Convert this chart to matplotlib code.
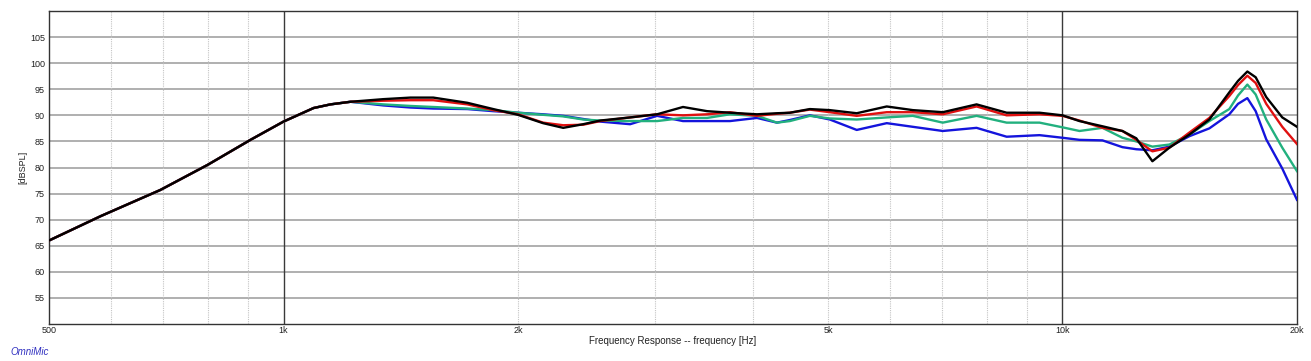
"""Frequency response plot (OmniMic style), four measurement traces."""

import matplotlib

matplotlib.use("Agg")
import matplotlib.pyplot as plt
from matplotlib.ticker import FixedLocator, NullFormatter

plt.rcParams["font.family"] = ["Liberation Sans", "DejaVu Sans"]

# Frequency grid [Hz] shared by every trace
FREQ = [
    500, 583, 695, 799, 907, 1000, 1093, 1149, 1219, 1343, 1455, 1557, 1722,
    1859, 2000, 2154, 2286, 2425, 2550, 2786, 3017, 3257, 3497, 3742, 4053,
    4300, 4467, 4739, 5027, 5443, 5948, 6424, 7019, 7757, 8478, 9344, 10000,
    10515, 11254, 11937, 12437, 13043, 13715, 14550, 15435, 16373, 16800,
    17270, 17700, 18262, 19148, 20000,
]

# Traces [dB SPL]; below ~1.2 kHz they all coincide
LOW_END = [66.0, 70.7, 75.7, 80.5, 85.3, 88.8, 91.4, 92.1, 92.6]

BLACK = LOW_END + [
    93.1, 93.4, 93.4, 92.4, 91.2, 90.1, 88.5, 87.6, 88.3, 89.0, 89.6, 90.2,
    91.6, 90.8, 90.5, 90.2, 90.4, 90.5, 91.2, 91.0, 90.4, 91.7, 91.0, 90.6,
    92.1, 90.5, 90.5, 90.0, 88.9, 87.9, 87.0, 85.6, 81.2, 83.8, 86.3, 89.2,
    94.4, 96.6, 98.4, 97.3, 93.5, 89.6, 87.8,
]
RED = LOW_END + [
    92.8, 92.9, 92.9, 92.1, 91.0, 90.2, 88.6, 88.1, 88.2, 88.9, 89.6, 90.2,
    90.0, 90.2, 90.6, 89.9, 90.3, 90.5, 91.1, 90.6, 89.9, 90.6, 90.6, 90.2,
    91.7, 90.0, 90.2, 89.9, 89.0, 87.6, 87.0, 85.3, 83.1, 83.8, 86.7, 89.5,
    93.7, 95.8, 97.6, 96.2, 92.2, 87.8, 84.5,
]
TEAL = LOW_END + [
    92.1, 91.8, 91.6, 91.3, 91.0, 90.5, 90.1, 89.8, 89.2, 89.0, 88.9, 88.9,
    89.5, 89.5, 90.2, 89.9, 88.6, 88.9, 89.9, 89.4, 89.2, 89.6, 89.9, 88.6,
    89.9, 88.6, 88.6, 87.7, 87.0, 87.6, 85.7, 85.0, 84.0, 84.4, 86.3, 88.9,
    91.2, 93.8, 95.9, 94.0, 89.2, 83.8, 79.3,
]
BLUE = LOW_END + [
    91.9, 91.5, 91.3, 91.2, 90.8, 90.5, 90.2, 89.9, 89.3, 88.8, 88.3, 89.9,
    88.9, 88.9, 88.9, 89.5, 88.6, 89.1, 90.0, 89.2, 87.2, 88.5, 87.8, 87.0,
    87.6, 85.9, 86.2, 85.7, 85.3, 85.2, 83.9, 83.5, 83.3, 84.0, 86.0, 87.5,
    90.2, 92.2, 93.3, 90.8, 85.4, 79.8, 73.8,
]

TRACES = [
    (BLUE, "#1414dc"),
    (TEAL, "#22b07e"),
    (RED, "#e01010"),
    (BLACK, "#000000"),
]

X_LABELED = [500, 1000, 2000, 5000, 10000, 20000]
X_LABELS = ["500", "1k", "2k", "5k", "10k", "20k"]
X_MAJOR = [1000, 10000]
X_MINOR = [600, 700, 800, 900, 2000, 3000, 4000, 5000, 6000, 7000, 8000, 9000]
Y_TICKS = [55, 60, 65, 70, 75, 80, 85, 90, 95, 100, 105]

TEXT_COLOR = "#222222"

fig = plt.figure(figsize=(13.11, 3.61), dpi=100)
ax = fig.add_axes([49 / 1311, 37 / 361, 1248 / 1311, 313 / 361])

ax.set_xscale("log")
ax.set_xlim(500, 20000)
ax.set_ylim(50, 110)

# grid
for y in Y_TICKS:
    ax.axhline(y, color="#9a9a9a", linewidth=1.1, zorder=1)
for x in X_MINOR:
    ax.axvline(x, color="#c4c4c4", linewidth=0.8, linestyle=(0, (1, 1)), zorder=1)
for x in X_MAJOR:
    ax.axvline(x, color="#3a3a3a", linewidth=1.0, zorder=1)

for values, color in TRACES:
    ax.plot(FREQ, values, color=color, linewidth=1.7, zorder=3,
            solid_joinstyle="round")

ax.xaxis.set_major_locator(FixedLocator(X_LABELED))
ax.set_xticklabels(X_LABELS)
ax.xaxis.set_minor_locator(FixedLocator([]))
ax.xaxis.set_minor_formatter(NullFormatter())
ax.set_yticks(Y_TICKS)
ax.tick_params(axis="y", length=0, labelsize=6.5, colors=TEXT_COLOR, pad=3)
ax.tick_params(axis="x", length=0, labelsize=6.5, colors=TEXT_COLOR, pad=1.5)

for spine in ax.spines.values():
    spine.set_color("#333333")
    spine.set_linewidth(1.0)

ax.set_xlabel("Frequency Response -- frequency [Hz]", fontsize=7,
              color=TEXT_COLOR, labelpad=1)
ax.set_ylabel("[dBSPL]", fontsize=6.5, color=TEXT_COLOR, labelpad=2)

fig.text(10 / 1311, 1 - 352 / 361, "OmniMic", fontsize=7, color="#3030c0",
         style="italic", va="center", ha="left")

fig.savefig("out.png", dpi=100)
